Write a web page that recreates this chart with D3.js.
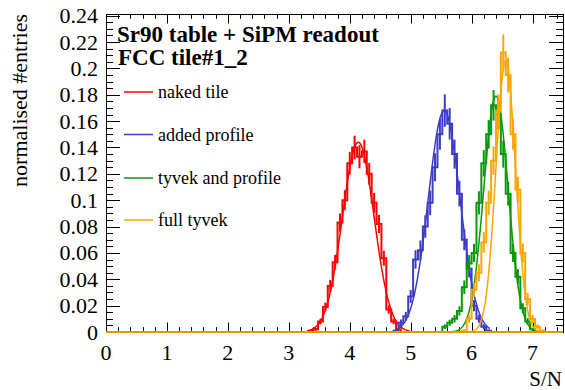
<!DOCTYPE html>
<html>
<head>
<meta charset="utf-8">
<script src="https://cdn.jsdelivr.net/npm/d3@7"></script>
<style>
  html, body { margin: 0; padding: 0; background: #fff; }
  svg { display: block; }
</style>
</head>
<body>
<div id="chart"></div>
<script>
// S/N spectra of a tile, four wrapping configurations, normalised histograms + gauss fits

const seriesNames = ['naked tile', 'added profile', 'tyvek and profile', 'full tyvek'];
const seriesColors = ['#ff0000', '#3c3cc8', '#0a990a', '#ffa500'];

// histogram binning (S/N units)
const binWidth = 0.08;
const binStart = [3.32, 4.72, 5.52, 5.84];

// bin contents
const redValues = [0.001, 0.002, 0.008, 0.019, 0.035, 0.053, 0.083, 0.100, 0.128, 0.140,
                   0.133, 0.137, 0.120, 0.098, 0.082, 0.056, 0.017, 0.008, 0.002, 0.000];
const blueValues = [0.001, 0.007, 0.012, 0.027, 0.055, 0.062, 0.080, 0.098, 0.125, 0.150,
                    0.168, 0.158, 0.135, 0.105, 0.070, 0.048, 0.020, 0.010, 0.004, 0.001];
const greenValues = [0.004, 0.007, 0.010, 0.016, 0.034, 0.052, 0.060, 0.098, 0.128, 0.150,
                     0.172, 0.165, 0.135, 0.105, 0.060, 0.042, 0.018, 0.008, 0.002];
const orangeValues = [0.001, 0.010, 0.032, 0.045, 0.068, 0.098, 0.130, 0.168, 0.212, 0.195,
                      0.150, 0.108, 0.060, 0.025, 0.010, 0.004, 0.001];
// statistical error scale per series (err = k * sqrt(content))
const errScale = [0.024, 0.030, 0.028, 0.030];

// gaussian fit parameters
const fitAmp = [0.144, 0.168, 0.179, 0.206];
const fitMean = [4.14, 5.55, 6.40, 6.56];
const fitSigma = [0.26, 0.26, 0.20, 0.16];
const fitLo = [3.30, 4.72, 5.50, 5.85];
const fitHi = [4.98, 6.30, 7.00, 7.20];

// axes
const xTicks = [0, 1, 2, 3, 4, 5, 6, 7];
const yTicks = [0, 0.02, 0.04, 0.06, 0.08, 0.1, 0.12, 0.14, 0.16, 0.18, 0.2, 0.22, 0.24];

const allValues = [redValues, blueValues, greenValues, orangeValues];

const W = 565, H = 390;
const frame = { left: 106, right: 563, top: 14, bottom: 332 };
const serif = '"Liberation Serif", "Times New Roman", Tinos, "DejaVu Serif", serif';

const svg = d3.select('#chart').append('svg')
    .attr('width', W).attr('height', H)
    .attr('font-family', serif);

const x = d3.scaleLinear().domain([0, 7.5]).range([frame.left, frame.right]);
const y = d3.scaleLinear().domain([0, 0.2413]).range([frame.bottom, frame.top]);

// tick marks (ROOT style, inside the frame, on all four sides)
const ticks = svg.append('g').attr('stroke', '#000').attr('stroke-width', 1);
const xMinor = d3.range(0, 7.5001, 0.2);
xMinor.forEach(v => {
    const major = Math.abs(v - Math.round(v)) < 1e-6;
    const len = major ? 9.5 : 4.8;
    const px = Math.round(x(v)) + 0.5;
    ticks.append('line').attr('x1', px).attr('x2', px)
        .attr('y1', frame.bottom).attr('y2', frame.bottom - len);
    ticks.append('line').attr('x1', px).attr('x2', px)
        .attr('y1', frame.top).attr('y2', frame.top + len);
});
const yMinor = d3.range(0, 0.2413, 0.005);
yMinor.forEach((v, i) => {
    const major = i % 4 === 0;
    const len = major ? 14 : 7;
    const py = Math.round(y(v)) + 0.5;
    ticks.append('line').attr('x1', frame.left).attr('x2', frame.left + len)
        .attr('y1', py).attr('y2', py);
    ticks.append('line').attr('x1', frame.right).attr('x2', frame.right - len)
        .attr('y1', py).attr('y2', py);
});

// histograms, error bars, fits
const line = d3.line().x(d => x(d[0])).y(d => y(d[1]));

allValues.forEach((vals, s) => {
    const col = seriesColors[s];
    const g = svg.append('g');
    // step outline, zero everywhere outside the filled bins
    const step = [[0, 0], [binStart[s], 0]];
    vals.forEach((v, i) => {
        const lo = binStart[s] + i * binWidth;
        step.push([lo, v], [lo + binWidth, v]);
    });
    step.push([binStart[s] + vals.length * binWidth, 0], [7.5, 0]);
    g.append('path').attr('d', line(step))
        .attr('fill', 'none').attr('stroke', col).attr('stroke-width', 2);

    // error bars
    vals.forEach((v, i) => {
        if (v <= 0) return;
        const c = binStart[s] + (i + 0.5) * binWidth;
        const e = errScale[s] * Math.sqrt(v);
        g.append('line')
            .attr('x1', x(c)).attr('x2', x(c))
            .attr('y1', y(Math.max(0, v - e))).attr('y2', y(v + e))
            .attr('stroke', col).attr('stroke-width', 2);
    });

    // gauss fit curve
    const fit = d3.range(fitLo[s], fitHi[s] + 1e-9, 0.01).map(t =>
        [t, fitAmp[s] * Math.exp(-0.5 * Math.pow((t - fitMean[s]) / fitSigma[s], 2))]);
    g.append('path').attr('d', line(fit))
        .attr('fill', 'none').attr('stroke', col).attr('stroke-width', 1.5);
});

// frame
svg.append('rect')
    .attr('x', frame.left + 0.5).attr('y', frame.top + 0.5)
    .attr('width', frame.right - frame.left).attr('height', frame.bottom - frame.top)
    .attr('fill', 'none').attr('stroke', '#000').attr('stroke-width', 1);

// zero line drawn by the last histogram over the axis
svg.append('line')
    .attr('x1', x(0)).attr('x2', x(7.5)).attr('y1', y(0)).attr('y2', y(0))
    .attr('stroke', '#e09a00').attr('stroke-width', 2);

// tick labels
svg.append('g').selectAll('text').data(xTicks).enter().append('text')
    .attr('x', d => x(d)).attr('y', 360)
    .attr('text-anchor', 'middle')
    .attr('font-size', 22)
    .text(d => d);

svg.append('g').selectAll('text').data(yTicks).enter().append('text')
    .attr('x', 98).attr('y', d => y(d) + 7.5)
    .attr('text-anchor', 'end')
    .attr('font-size', 22)
    .text(d => d3.format('~g')(d));

// axis titles
svg.append('text')
    .attr('x', 562).attr('y', 386)
    .attr('text-anchor', 'end')
    .attr('font-size', 21)
    .text('S/N');

svg.append('text')
    .attr('transform', 'translate(27,14) rotate(-90)')
    .attr('text-anchor', 'end')
    .attr('font-size', 22)
    .text('normalised #entries');

// header
svg.append('text')
    .attr('x', 117).attr('y', 42)
    .attr('font-size', 23).attr('font-weight', 'bold')
    .text('Sr90 table + SiPM readout');
svg.append('text')
    .attr('x', 118).attr('y', 65)
    .attr('font-size', 23).attr('font-weight', 'bold')
    .text('FCC tile#1_2');

// legend
const legendY = [92, 134.5, 178, 220];
seriesNames.forEach((name, i) => {
    svg.append('line')
        .attr('x1', 124).attr('x2', 153)
        .attr('y1', legendY[i]).attr('y2', legendY[i])
        .attr('stroke', seriesColors[i]).attr('stroke-width', 1.5);
    svg.append('text')
        .attr('x', 158).attr('y', legendY[i] + 6)
        .attr('font-size', 18)
        .text(name);
});
</script>
</body>
</html>
